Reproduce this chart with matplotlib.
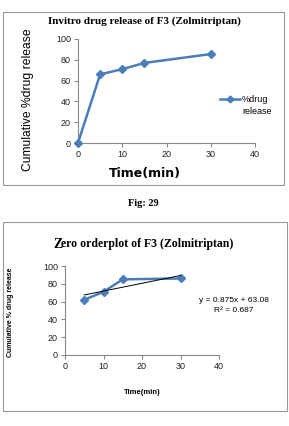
import matplotlib
matplotlib.use("Agg")
import matplotlib.pyplot as plt
from matplotlib.patches import Rectangle
from matplotlib.lines import Line2D
import numpy as np

# Data
time_release = [0, 5, 10, 15, 30]
pct_release = [0, 66, 71, 77, 85.5]
time_zero = [5, 10, 15, 30]
pct_zero = [62, 71, 85, 86]
slope, intercept = 0.875, 63.08
xticks = [0, 10, 20, 30, 40]
yticks = [0, 20, 40, 60, 80, 100]

W, H = 289, 426
fig = plt.figure(figsize=(W / 100, H / 100), dpi=100)
fig.patch.set_facecolor("white")

blue = "#4a7ebb"
spine_c = "#888888"

def fx(px):
    return px / W

def fy(py):
    return 1 - py / H

# Panel borders
fig.add_artist(Rectangle((fx(3), fy(185)), fx(284) - fx(3), fy(12) - fy(185),
                         transform=fig.transFigure, fill=False, edgecolor="#999999", lw=0.8))
fig.add_artist(Rectangle((fx(3), fy(411)), fx(287) - fx(3), fy(222) - fy(411),
                         transform=fig.transFigure, fill=False, edgecolor="#999999", lw=0.8))

def style_axes(ax):
    for s in ["top", "right"]:
        ax.spines[s].set_visible(False)
    for s in ["left", "bottom"]:
        ax.spines[s].set_color(spine_c)
        ax.spines[s].set_linewidth(0.8)
    ax.tick_params(axis="both", direction="out", length=3, width=0.8, color=spine_c,
                   labelsize=6.5, pad=2, labelcolor="#222222")
    ax.set_xlim(0, 40)
    ax.set_ylim(0, 100)
    ax.set_xticks(xticks)
    ax.set_yticks(yticks)
    for lab in ax.get_xticklabels() + ax.get_yticklabels():
        lab.set_fontfamily("Liberation Sans")

# Top chart
ax1 = fig.add_axes([fx(78), fy(143), fx(255) - fx(78), fy(39) - fy(143)])
style_axes(ax1)
ax1.plot(time_release, pct_release, color=blue, lw=1.8, marker="D", markersize=4,
         markerfacecolor=blue, markeredgecolor=blue, clip_on=False, zorder=5)
fig.text(fx(144), fy(21), "Invitro drug release of F3 (Zolmitriptan)", ha="center", va="center",
         fontsize=8, fontweight="bold", family="Liberation Serif")
fig.text(fx(28), fy(100), "Cumulative %drug release", ha="center", va="center", rotation=90,
         fontsize=8.7, family="Liberation Sans")
fig.text(fx(145), fy(173), "Time(min)", ha="center", va="center", fontsize=9,
         fontweight="bold", family="DejaVu Sans")
# legend
fig.add_artist(Line2D([fx(220), fx(240)], [fy(99), fy(99)], transform=fig.transFigure,
                      color=blue, lw=1.8))
fig.add_artist(Line2D([fx(230)], [fy(99)], transform=fig.transFigure,
                      color=blue, lw=0, marker="D", markersize=3.5,
                      markerfacecolor=blue, markeredgecolor=blue))
fig.text(fx(242), fy(99), "%drug", ha="left", va="center", fontsize=6.5, family="Liberation Sans")
fig.text(fx(242), fy(111), "release", ha="left", va="center", fontsize=6.5, family="Liberation Sans")

# Caption
fig.text(fx(143), fy(204), "Fig: 29", ha="center", va="center", fontsize=7.5,
         fontweight="bold", family="Liberation Serif")

# Bottom chart
ax2 = fig.add_axes([fx(65), fy(355), fx(219) - fx(65), fy(266) - fy(355)])
style_axes(ax2)
ax2.plot(time_zero, pct_zero, color=blue, lw=1.8, marker="D", markersize=4,
         markerfacecolor=blue, markeredgecolor=blue, clip_on=False, zorder=5)
xt = np.array([time_zero[0], time_zero[-1]])
ax2.plot(xt, slope * xt + intercept, color="black", lw=0.7, zorder=6)
fig.text(fx(53), fy(244), "Z", ha="left", va="center",
         fontsize=10, fontweight="bold", family="Liberation Serif")
fig.text(fx(61), fy(244), "ero orderplot of F3 (Zolmitriptan)", ha="left", va="center",
         fontsize=8.5, fontweight="bold", family="Liberation Serif")
fig.text(fx(11), fy(312), "Cumulative % drug release", ha="center", va="center", rotation=90,
         fontsize=5, fontweight="bold", family="Liberation Sans")
fig.text(fx(142), fy(392), "Time(min)", ha="center", va="center", fontsize=5.5,
         fontweight="bold", family="Liberation Sans")
fig.text(fx(234), fy(300), "y = 0.875x + 63.08", ha="center", va="center", fontsize=6,
         family="Liberation Sans")
fig.text(fx(234), fy(311), "R² = 0.687", ha="center", va="center", fontsize=6,
         family="Liberation Sans")

fig.savefig("out.png", dpi=100)
